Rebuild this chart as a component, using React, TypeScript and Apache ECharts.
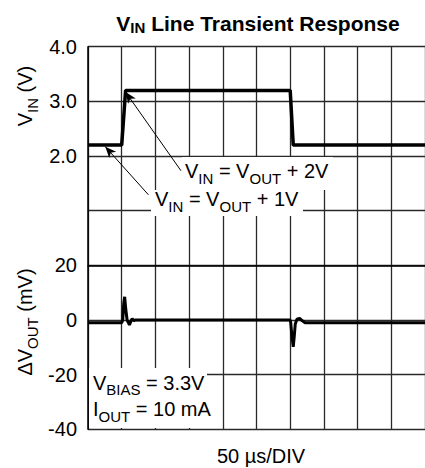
import React, { useEffect, useRef } from 'react';
import * as echarts from 'echarts';

const FONT = '"Liberation Sans", Arial, Helvetica, sans-serif';

// Time axis (µs), 50 µs per division
const timeMin = 0;
const timeMax = 500;
const timeStep = 50;

// V_IN trace (V)
const vinTime = [0, 50, 55.8, 300, 304.5, 500];
const vinVolts = [2.2, 2.2, 3.2, 3.2, 2.2, 2.2];

// ΔV_OUT trace (mV)
const dvTime = [0, 50, 51.5, 53, 54.4, 56, 58, 61.5, 63.5, 65.5, 68, 70, 300, 300.8, 302.2, 304.5, 306, 307.5, 310, 314, 318, 322, 500];
const dvMilli = [-1.0, -1.0, 0, 6, 8.5, 4, 0, -1.8, -0.5, 0.5, -0.3, 0, 0, -1, -5, -9.8, -6, -1.5, 0.3, 0.6, -0.3, -1.0, -1.0];

// Axis ranges (both share the same 7 divisions)
const vinAxis = { min: -3, max: 4, interval: 1 };
const dvAxis = { min: -40, max: 100, interval: 20 };

// Annotation arrows (tail -> tip), in V_IN data coordinates [µs, V]
const arrow2VFrom = [138, 1.73];
const arrow2VTo = [55.8, 3.17];
const arrow1VFrom = [89.7, 1.29];
const arrow1VTo = [25.7, 2.17];

const main = (size: number, bold = false) => ({
  fontSize: size,
  lineHeight: size + 4,
  fontFamily: FONT,
  fontWeight: bold ? 'bold' : 'normal',
  fill: '#000',
  verticalAlign: 'middle',
});
const sub = (size: number, pad: number, bold = false) => ({
  fontSize: size,
  lineHeight: size,
  padding: [pad, 0, 0, 0],
  fontFamily: FONT,
  fontWeight: bold ? 'bold' : 'normal',
  fill: '#000',
  verticalAlign: 'middle',
});

export default function App() {
  const ref = useRef<HTMLDivElement>(null);
  useEffect(() => {
    const chart = echarts.init(ref.current!, null, { renderer: 'svg' });
    const richN = { m: main(20), s: sub(15, 14) };
    const gridColor = '#2a2a2a';
    const option: any = {
      animation: false,
      backgroundColor: '#fff',
      grid: { left: 88, top: 46.7, width: 344, height: 382.6 },
      xAxis: {
        type: 'value',
        min: timeMin,
        max: timeMax,
        interval: timeStep,
        axisLabel: { show: false },
        axisTick: { show: false },
        axisLine: { show: true, lineStyle: { color: '#000', width: 1.5 } },
        splitLine: { show: true, lineStyle: { color: gridColor, width: 1.3 } },
      },
      yAxis: [
        {
          type: 'value',
          ...vinAxis,
          position: 'left',
          axisLine: { show: true, lineStyle: { color: '#000', width: 1.5 } },
          axisTick: { show: false },
          axisLabel: {
            formatter: (v: number) => (v >= 2 ? v.toFixed(1) : ''),
            fontSize: 20,
            color: '#000',
            fontFamily: FONT,
            margin: 11,
          },
          splitLine: { show: true, lineStyle: { color: gridColor, width: 1.3 } },
        },
        {
          type: 'value',
          ...dvAxis,
          position: 'left',
          offset: 0,
          axisLine: { show: false },
          axisTick: { show: false },
          splitLine: { show: false },
          axisLabel: {
            formatter: (v: number) => (v <= 20 ? String(v) : ''),
            fontSize: 20,
            color: '#000',
            fontFamily: FONT,
            margin: 11,
          },
        },
      ],
      series: [
        {
          type: 'line',
          name: 'VIN',
          yAxisIndex: 0,
          showSymbol: false,
          data: vinTime.map((t, i) => [t, vinVolts[i]]),
          lineStyle: { color: '#000', width: 3.5 },
          z: 3,
          markLine: {
            silent: true,
            symbol: ['none', 'arrow'],
            symbolSize: [7, 11],
            label: { show: false },
            lineStyle: { color: '#000', width: 1, type: 'solid' },
            data: [
              [{ coord: arrow2VFrom }, { coord: arrow2VTo }],
              [{ coord: arrow1VFrom }, { coord: arrow1VTo }],
            ],
          },
        },
        {
          type: 'line',
          name: 'dVOUT',
          yAxisIndex: 1,
          showSymbol: false,
          data: dvTime.map((t, i) => [t, dvMilli[i]]),
          lineStyle: { color: '#000', width: 3 },
          z: 3,
        },
      ],
      graphic: [
        {
          type: 'text',
          x: 258,
          y: 23,
          z: 100,
          style: {
            text: '{m|V}{s|IN}{m| Line Transient Response}',
            align: 'center',
            verticalAlign: 'middle',
            rich: { m: main(21, true), s: sub(15, 9, true) },
          },
        },
        {
          type: 'text',
          x: 25,
          y: 96,
          rotation: Math.PI / 2,
          z: 100,
          style: {
            text: '{m|V}{s|IN}{m| (V)}',
            align: 'center',
            verticalAlign: 'middle',
            rich: richN,
          },
        },
        {
          type: 'text',
          x: 25,
          y: 322,
          rotation: Math.PI / 2,
          z: 100,
          style: {
            text: '{m|ΔV}{s|OUT}{m| (mV)}',
            align: 'center',
            verticalAlign: 'middle',
            rich: richN,
          },
        },
        {
          type: 'text',
          x: 261,
          y: 456,
          z: 100,
          style: {
            text: '50 µs/DIV',
            align: 'center',
            verticalAlign: 'middle',
            fontSize: 20,
            fontFamily: FONT,
            fill: '#000',
          },
        },
        { type: 'rect', z: 90, shape: { x: 182, y: 157, width: 151, height: 33 }, style: { fill: '#fff' } },
        { type: 'rect', z: 90, shape: { x: 151, y: 190, width: 152, height: 26 }, style: { fill: '#fff' } },
        { type: 'rect', z: 90, shape: { x: 89, y: 368, width: 118, height: 60 }, style: { fill: '#fff' } },
        {
          type: 'text',
          x: 185,
          y: 171,
          z: 100,
          style: {
            text: '{m|V}{s|IN}{m| = V}{s|OUT}{m| + 2V}',
            align: 'left',
            verticalAlign: 'middle',
            rich: richN,
          },
        },
        {
          type: 'text',
          x: 155,
          y: 199,
          z: 100,
          style: {
            text: '{m|V}{s|IN}{m| = V}{s|OUT}{m| + 1V}',
            align: 'left',
            verticalAlign: 'middle',
            rich: richN,
          },
        },
        {
          type: 'text',
          x: 93,
          y: 382.5,
          z: 100,
          style: {
            text: '{m|V}{s|BIAS}{m| = 3.3V}',
            align: 'left',
            verticalAlign: 'middle',
            rich: richN,
          },
        },
        {
          type: 'text',
          x: 93,
          y: 409,
          z: 100,
          style: {
            text: '{m|I}{s|OUT}{m| = 10 mA}',
            align: 'left',
            verticalAlign: 'middle',
            rich: richN,
          },
        },
      ],
    };
    chart.setOption(option);
    return () => chart.dispose();
  }, []);
  return (
    <div
      ref={ref}
      style={{ position: 'absolute', left: 0, top: 0, width: 425, height: 468, background: '#fff' }}
    />
  );
}
